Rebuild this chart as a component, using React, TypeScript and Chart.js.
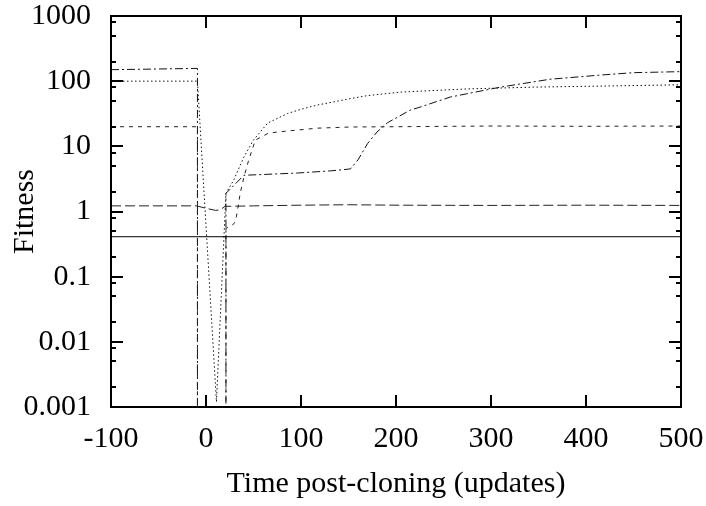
import React, { useEffect, useRef } from 'react';
import { Chart, registerables } from 'chart.js';

Chart.register(...registerables);

// ---- Axis ticks ----
const xTicks = [-100, 0, 100, 200, 300, 400, 500];
const yTicks = [1000, 100, 10, 1, 0.1, 0.01, 0.001];
const yMinorFactors = [2, 5, 8];

// value used for "no fitness" (below the bottom of the log axis)
const ZERO = 1e-6;

// ---- Series (time, fitness) ----
const solidX = [-100, 0, 100, 200, 300, 400, 500];
const solidY = [0.41, 0.41, 0.41, 0.41, 0.41, 0.41, 0.41];

const longDashX = [-100, -10, 0, 10, 15, 20, 50, 100, 150, 200, 300, 400, 500];
const longDashY = [1.22, 1.22, 1.12, 1.04, 1.06, 1.2, 1.22, 1.25, 1.27, 1.25, 1.24, 1.25, 1.24];

const shortDashX = [-100, -9, -9, 21, 21, 28, 31, 33, 36, 40, 45, 52, 66, 86, 117, 152, 200, 300, 400, 500];
const shortDashY = [20, 20, ZERO, ZERO, 0.55, 0.62, 0.7, 1.0, 1.9, 3.4, 6.2, 12.5, 16, 17.2, 19, 19.8, 20, 20.5, 20.3, 20.5];

const dottedX = [-100, -9, 11, 21, 29, 40, 50, 65, 86, 100, 117, 134, 152, 170, 205, 275, 345, 415, 500];
const dottedY = [100, 100, 0.0012, 1.9, 3.0, 6.9, 12.5, 22.8, 32, 37, 43, 48, 54, 60, 68, 76, 81, 84, 88];

const dashDotX = [-100, -9, -9, 21, 21, 40, 61, 97, 131, 152, 160, 170, 180, 191, 215, 223, 257, 310, 362, 415, 450, 500];
const dashDotY = [150, 157, ZERO, ZERO, 1.9, 3.6, 3.7, 3.9, 4.2, 4.5, 6.2, 11, 16.6, 23, 36, 39, 57, 81, 107, 124, 135, 140];

const FONT = 'Liberation Serif';
const FONT_SIZE = 30;

function pts(xs: number[], ys: number[]) {
  return xs.map((x, i) => ({ x, y: ys[i] }));
}

const framePlugin = {
  id: 'gnuframe',
  afterDatasetsDraw(chart: any) {
    const { ctx, chartArea: a, scales } = chart;
    const x = scales.x;
    const y = scales.y;
    ctx.save();
    ctx.strokeStyle = '#000';
    ctx.lineWidth = 2;
    ctx.beginPath();
    for (const v of xTicks) {
      const px = Math.round(x.getPixelForValue(v));
      ctx.moveTo(px, a.bottom);
      ctx.lineTo(px, a.bottom - 12);
      ctx.moveTo(px, a.top);
      ctx.lineTo(px, a.top + 12);
    }
    for (const v of yTicks) {
      const py = Math.round(y.getPixelForValue(v));
      ctx.moveTo(a.left, py);
      ctx.lineTo(a.left + 12, py);
      ctx.moveTo(a.right, py);
      ctx.lineTo(a.right - 12, py);
    }
    for (const d of yTicks) {
      for (const f of yMinorFactors) {
        const v = d * f;
        if (v >= 1000) continue;
        const py = Math.round(y.getPixelForValue(v));
        ctx.moveTo(a.left, py);
        ctx.lineTo(a.left + 5, py);
        ctx.moveTo(a.right, py);
        ctx.lineTo(a.right - 5, py);
      }
    }
    ctx.stroke();
    ctx.strokeRect(a.left, a.top, a.right - a.left, a.bottom - a.top);
    ctx.restore();
  },
};

export default function App() {
  const ref = useRef<HTMLCanvasElement | null>(null);

  useEffect(() => {
    if (!ref.current) return;
    const line = (data: any, dash: number[], color = '#000') => ({
      data,
      borderColor: color,
      borderWidth: 1,
      borderDash: dash,
      pointRadius: 0,
      fill: false,
      tension: 0,
    });
    const chart = new Chart(ref.current, {
      type: 'line',
      data: {
        datasets: [
          line(pts(solidX, solidY), []),
          line(pts(longDashX, longDashY), [10, 4], '#222'),
          line(pts(shortDashX, shortDashY), [4, 5], '#222'),
          line(pts(dottedX, dottedY), [1.5, 2.5], '#111'),
          line(pts(dashDotX, dashDotY), [8, 3, 2, 3], '#111'),
        ] as any,
      },
      options: {
        responsive: false,
        animation: false,
        events: [],
        layout: { padding: { top: 16, right: 25, left: 0, bottom: 0 } },
        plugins: { legend: { display: false }, tooltip: { enabled: false } },
        scales: {
          x: {
            type: 'linear',
            min: -100,
            max: 500,
            afterBuildTicks: (s: any) => {
              s.ticks = xTicks.map((v) => ({ value: v }));
            },
            afterFit: (s: any) => {
              s.height = 99;
              s.paddingLeft = 0;
              s.paddingRight = 0;
            },
            grid: { display: false, drawTicks: false },
            border: { display: false },
            ticks: {
              padding: 14,
              maxRotation: 0,
              autoSkip: false,
              color: '#000',
              font: { family: FONT, size: FONT_SIZE },
              callback: (v: any) => String(v),
            },
            title: {
              display: true,
              text: 'Time post-cloning (updates)',
              color: '#000',
              font: { family: FONT, size: FONT_SIZE },
              padding: { top: 0, bottom: 4 },
            },
          },
          y: {
            type: 'logarithmic',
            min: 0.001,
            max: 1000,
            afterBuildTicks: (s: any) => {
              s.ticks = yTicks.map((v) => ({ value: v }));
            },
            afterFit: (s: any) => {
              s.width = 111;
              s.paddingTop = 0;
              s.paddingBottom = 0;
            },
            grid: { display: false, drawTicks: false },
            border: { display: false },
            ticks: {
              padding: 20,
              autoSkip: false,
              color: '#000',
              font: { family: FONT, size: FONT_SIZE },
              callback: (v: any) => String(v),
            },
            title: {
              display: true,
              text: 'Fitness',
              color: '#000',
              font: { family: FONT, size: FONT_SIZE },
              padding: { top: 7, bottom: 0 },
            },
          },
        },
      } as any,
      plugins: [framePlugin],
    });
    return () => chart.destroy();
  }, []);

  return (
    <div style={{ position: 'absolute', left: 0, top: 0, width: 706, height: 506 }}>
      <canvas ref={ref} width={706} height={506} />
    </div>
  );
}
